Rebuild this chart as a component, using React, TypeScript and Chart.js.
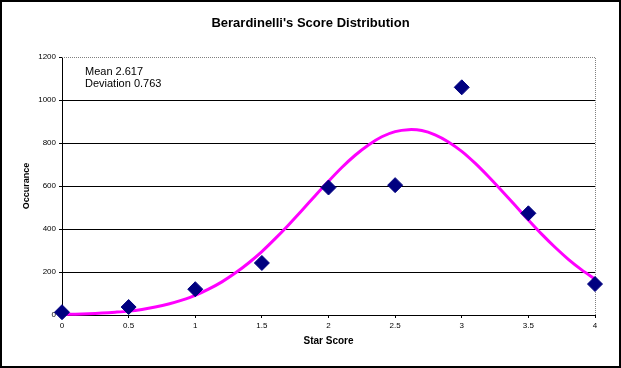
import React, { useEffect, useRef } from "react";
import { Chart, registerables } from "chart.js";

Chart.register(...registerables);

const chartTitle = "Berardinelli's Score Distribution";
const xAxisTitle = "Star Score";
const yAxisTitle = "Occurance";
const annotationLines = ["Mean 2.617", "Deviation 0.763"];

const starScores = [0, 0.5, 1, 1.5, 2, 2.5, 3, 3.5, 4];
const occurrences = [13, 37, 120, 242, 593, 604, 1059, 473, 144];

const curveX = [
  0, 0.1, 0.2, 0.3, 0.4, 0.5, 0.6, 0.7, 0.8, 0.9, 1, 1.1, 1.2, 1.3, 1.4, 1.5,
  1.6, 1.7, 1.8, 1.9, 2, 2.1, 2.2, 2.3, 2.4, 2.5, 2.6, 2.7, 2.8, 2.9, 3, 3.1,
  3.2, 3.3, 3.4, 3.5, 3.6, 3.7, 3.8, 3.9, 4,
];
const curveY = [
  2, 4, 6, 9, 13, 18, 26, 37, 51, 69, 91, 120, 154, 195, 242, 295, 355, 419,
  486, 555, 622, 686, 743, 791, 829, 853, 862, 858, 838, 805, 761, 706, 644,
  578, 510, 442, 376, 315, 259, 210, 167,
];

const xTickValues = [0, 0.5, 1, 1.5, 2, 2.5, 3, 3.5, 4];
const yTickValues = [0, 200, 400, 600, 800, 1000, 1200];

const FONT = "Arial, 'Liberation Sans', sans-serif";

export default function App() {
  const ref = useRef<HTMLCanvasElement | null>(null);

  useEffect(() => {
    document.body.style.margin = "0";
    const canvas = ref.current;
    if (!canvas) return;

    const decor = {
      id: "decor",
      beforeDatasetsDraw(chart: any) {
        const { ctx, chartArea } = chart;
        ctx.save();
        ctx.strokeStyle = "#808080";
        ctx.lineWidth = 1;
        ctx.setLineDash([1, 1]);
        ctx.beginPath();
        const t = Math.round(chartArea.top) + 0.5;
        const r = Math.round(chartArea.right) + 0.5;
        const b = Math.round(chartArea.bottom);
        ctx.moveTo(Math.round(chartArea.left), t);
        ctx.lineTo(r, t);
        ctx.lineTo(r, b);
        ctx.stroke();
        ctx.restore();
      },
      afterDraw(chart: any) {
        const { ctx, chartArea, width } = chart;
        ctx.save();
        ctx.fillStyle = "#000";
        ctx.textAlign = "center";
        ctx.textBaseline = "middle";
        ctx.font = `bold 13px ${FONT}`;
        ctx.fillText(chartTitle, width / 2, 21.7);
        ctx.textAlign = "left";
        ctx.font = `11px ${FONT}`;
        annotationLines.forEach((line, i) => {
          ctx.fillText(line, chartArea.left + 23, chartArea.top + 14.7 + i * 12.6);
        });
        ctx.restore();
      },
    };

    const chart = new Chart(canvas, {
      type: "scatter",
      data: {
        datasets: [
          {
            type: "scatter",
            label: "Scores",
            data: starScores.map((x, i) => ({ x, y: occurrences[i] })),
            pointStyle: "rectRot",
            pointRadius: 7.5,
            pointBorderWidth: 1,
            backgroundColor: "#000080",
            borderColor: "#000080",
            clip: false,
            order: 0,
          },
          {
            type: "line",
            label: "Normal",
            data: curveX.map((x, i) => ({ x, y: curveY[i] })),
            borderColor: "#FF00FF",
            borderWidth: 3,
            pointRadius: 0,
            tension: 0.3,
            fill: false,
            clip: false,
            order: 1,
          },
        ],
      },
      options: {
        responsive: false,
        animation: false,
        layout: { padding: { top: 55, right: 24, left: 0, bottom: 0 } },
        plugins: {
          legend: { display: false },
          tooltip: { enabled: false },
          title: { display: false },
        },
        scales: {
          x: {
            type: "linear",
            min: 0,
            max: 4,
            afterFit: (s: any) => {
              s.height = 51;
            },
            afterBuildTicks: (s: any) => {
              s.ticks = xTickValues.map((v) => ({ value: v }));
            },
            ticks: {
              color: "#000",
              font: { family: FONT, size: 8 },
              padding: 3,
              maxRotation: 0,
              callback: (v: any) => String(v),
            },
            grid: {
              drawOnChartArea: false,
              drawTicks: true,
              tickLength: 3,
              tickColor: "#000",
            },
            border: { color: "#000", width: 1 },
            title: {
              display: true,
              text: xAxisTitle,
              color: "#000",
              font: { family: FONT, size: 10, weight: "bold" },
              padding: { top: 0, bottom: 19 },
            },
          },
          y: {
            type: "linear",
            min: 0,
            max: 1200,
            afterFit: (s: any) => {
              s.width = 60;
            },
            afterBuildTicks: (s: any) => {
              s.ticks = yTickValues.map((v) => ({ value: v }));
            },
            ticks: {
              color: "#000",
              font: { family: FONT, size: 8 },
              padding: 3,
              callback: (v: any) => String(v),
            },
            grid: {
              color: (c: any) =>
                c.tick && c.tick.value === 1200 ? "rgba(0,0,0,0)" : "#000",
              lineWidth: 1,
              drawTicks: true,
              tickLength: 3,
              tickColor: "#000",
            },
            border: { color: "#000", width: 1 },
            title: {
              display: true,
              text: yAxisTitle,
              color: "#000",
              font: { family: FONT, size: 9, weight: "bold" },
              padding: { top: 19.6, bottom: 0 },
            },
          },
        },
      },
      plugins: [decor],
    } as any);

    return () => chart.destroy();
  }, []);

  return (
    <div
      style={{
        position: "fixed",
        left: 0,
        top: 0,
        width: 621,
        height: 368,
        boxSizing: "border-box",
        border: "2px solid #000",
        background: "#fff",
      }}
    >
      <canvas ref={ref} width={617} height={364} style={{ display: "block" }} />
    </div>
  );
}
